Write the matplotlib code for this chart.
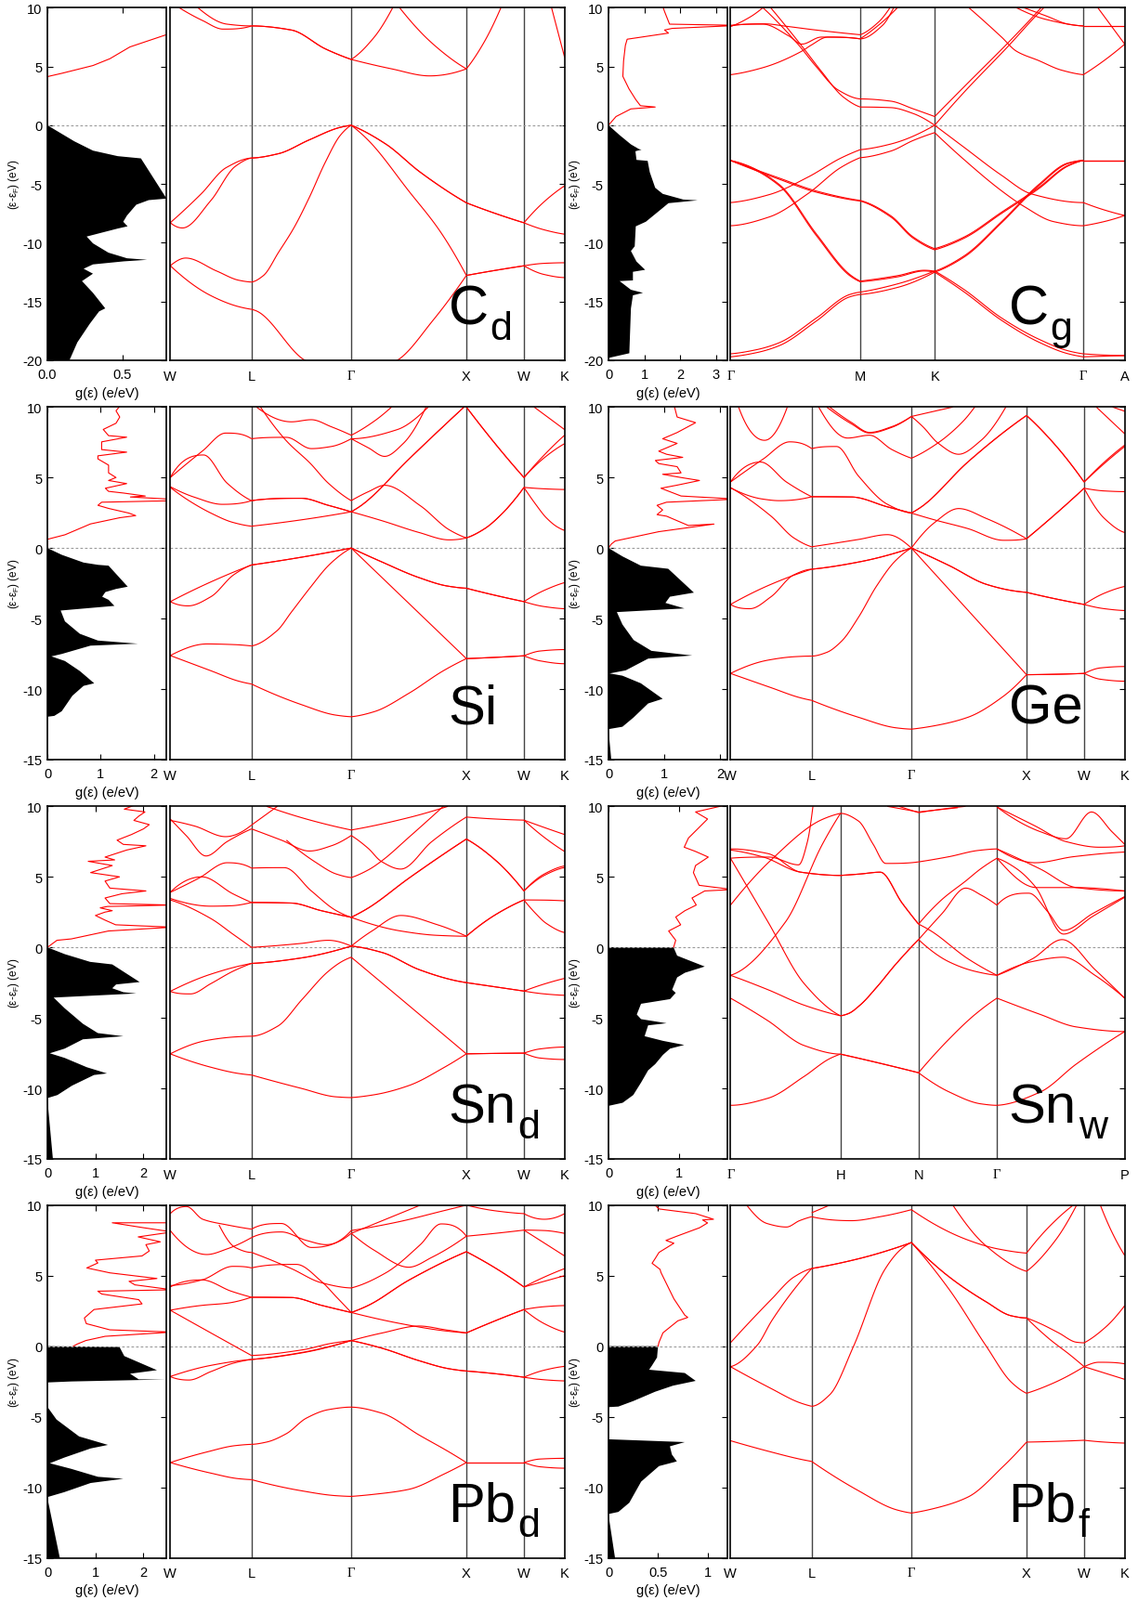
import numpy as np
import matplotlib.pyplot as plt

plt.rcParams["font.family"] = ["Liberation Sans", "DejaVu Sans"]
plt.rcParams["axes.unicode_minus"] = False
plt.rcParams["mathtext.fontset"] = "custom"
plt.rcParams["mathtext.rm"] = "Liberation Sans"
plt.rcParams["mathtext.it"] = "Liberation Sans:italic"

# high-symmetry paths: labels and their place along the band panel (0..1)
FCC_LABELS = ["W", "L", "Γ", "X", "W", "K"]
FCC_POS = [0.0, 0.206, 0.459, 0.751, 0.897, 1.0]
HEX_LABELS = ["Γ", "M", "K", "Γ", "A"]
HEX_POS = [0.0, 0.329, 0.518, 0.895, 1.0]
BCT_LABELS = ["Γ", "H", "N", "Γ", "P"]
BCT_POS = [0.0, 0.279, 0.477, 0.676, 1.0]

# bands: (k, E) knots, k counted in high-symmetry points (0 = first label)
CD_BANDS = [
    [(0, -11.95), (0.5, -14.5), (0.85, -15.45), (1, -15.66), (1.05, -15.8), (1.535, -20), (2, -21.6),
     (2.4, -20), (2.71, -16.6), (3, -12.78), (3.5, -12.35), (4, -11.96), (4.5, -12.7), (5, -12.96)],
    [(0, -11.95), (0.19, -11.3), (0.57, -12.4), (0.85, -13.2), (1, -13.34), (1.118, -12.8), (1.272, -10.8),
     (1.427, -8.7), (1.582, -6.1), (1.737, -3.2), (1.892, -0.84), (2, 0), (2.15, -1.3), (2.5, -5.6),
     (2.77, -9.0), (3, -12.78), (3.5, -12.35), (4, -11.96), (4.5, -11.75), (5, -11.7)],
    [(0, -8.29), (0.15, -8.74), (0.5, -6.4), (0.8, -3.5), (1, -2.79), (1.27, -2.42), (1.58, -1.24),
     (1.89, -0.18), (2, 0), (2.3, -1.6), (2.6, -4.0), (3, -6.6), (3.5, -7.5), (4, -8.3), (4.5, -8.9), (5, -9.27)],
    [(0, -8.29), (0.38, -5.84), (0.69, -3.6), (1, -2.79), (1.27, -2.42), (1.58, -1.24), (1.89, -0.18),
     (2, 0), (2.3, -1.6), (2.6, -4.0), (3, -6.6), (3.5, -7.5), (4, -8.3), (4.5, -6.5), (5, -5.16)],
    [(0.11, 10), (0.4, 8.9), (0.65, 8.18), (1, 8.45), (1.4, 8.1), (1.74, 6.5), (2, 5.6), (2.2, 7.5), (2.36, 10)],
    [(0.34, 10), (0.7, 8.6), (1, 8.45), (1.4, 8.1), (1.74, 6.5), (2, 5.6), (2.35, 4.8), (2.68, 4.2), (3, 4.8)],
    [(2.42, 10), (2.7, 7.0), (3, 4.8), (3.3, 7.0), (3.6, 10)],
    [(4.68, 10), (5, 5.8)],
]

CG_BANDS = [
    [(0, -19.45), (0.2, -19.1), (0.377, -18.5), (0.663, -16.4), (0.92, -14.4), (1, -14.2), (1.5, -13.5),
     (2, -12.4), (2.2, -14.0), (2.45, -16.4), (2.7, -18.2), (2.9, -19.2), (3, -19.45), (3.5, -19.55), (4, -19.6)],
    [(0, -19.7), (0.2, -19.35), (0.377, -18.75), (0.663, -16.65), (0.92, -14.6), (1, -14.4), (1.5, -13.8),
     (2, -12.5), (2.2, -14.2), (2.45, -16.6), (2.7, -18.45), (2.9, -19.45), (3, -19.7), (3.5, -19.65), (4, -19.6)],
    [(0, -3.0), (0.1, -3.3), (0.377, -5.05), (0.663, -9.26), (0.92, -12.7), (1, -13.26), (1.5, -12.8),
     (1.86, -12.34), (2, -12.42), (2.2, -11.1), (2.45, -8.2), (2.7, -5.05), (2.9, -3.2), (3, -3.0), (4, -3.0)],
    [(0, -3.0), (0.1, -3.35), (0.377, -5.15), (0.663, -9.4), (0.92, -12.8), (1, -13.32), (1.5, -12.9),
     (1.86, -12.4), (2, -12.5), (2.2, -11.2), (2.45, -8.3), (2.7, -5.15), (2.9, -3.25), (3, -3.0), (4, -3.0)],
    [(0, -3.0), (0.377, -4.5), (0.663, -5.6), (1, -6.4), (1.41, -7.7), (1.71, -9.5), (2, -10.5),
     (2.2, -9.5), (2.45, -7.4), (2.7, -5.3), (2.9, -3.4), (3, -3.0), (4, -3.0)],
    [(0, -3.0), (0.377, -4.6), (0.663, -5.7), (1, -6.45), (1.41, -7.8), (1.71, -9.6), (2, -10.6),
     (2.2, -9.6), (2.45, -7.5), (2.7, -5.4), (2.9, -3.45), (3, -3.0), (4, -3.0)],
    [(0, -6.58), (0.3, -5.9), (0.6, -4.4), (0.85, -2.8), (1, -2.08), (1.41, -1.6), (2, 0), (2.2, -1.9),
     (2.45, -4.26), (2.65, -5.84), (3, -6.58), (3.5, -7.2), (4, -7.68)],
    [(0, -8.55), (0.3, -7.8), (0.6, -5.8), (0.85, -3.6), (1, -2.76), (1.41, -2.2), (1.71, -1.3), (2, -0.63),
     (2.2, -2.95), (2.45, -5.58), (2.6, -6.9), (2.8, -8.2), (3, -8.55), (3.5, -8.2), (4, -7.68)],
    [(0.25, 10), (0.52, 6.9), (0.66, 5.0), (0.83, 3.0), (1, 2.24), (1.41, 2.05), (1.71, 1.4), (2, 0.74),
     (2.2, 3.3), (2.5, 7.1), (2.68, 9.5), (2.75, 10.5)],
    [(0.31, 10), (0.56, 6.6), (0.7, 4.6), (0.87, 2.4), (1, 1.55), (1.41, 1.5), (1.71, 1.0), (2, 0.0),
     (2.2, 2.84), (2.5, 6.8), (2.67, 9.16), (2.75, 10.2)],
    [(0, 4.3), (0.25, 4.9), (0.55, 6.3), (0.62, 6.8), (0.75, 7.5), (1, 7.35), (1.3, 8.5), (1.45, 10)],
    [(2.23, 10), (2.45, 7.5), (2.55, 6.3), (2.7, 5.5), (2.85, 4.7), (3, 4.3), (3.5, 5.5), (4, 6.9)],
    [(2.6, 10), (2.75, 9.3), (2.9, 8.6), (3, 8.45), (4, 8.45)],
    [(2.55, 10), (2.75, 9.0), (3, 8.45), (4, 8.45)],
    [(3.35, 10), (4, 6.9)],
    [(0, 8.45), (0.26, 8.63), (0.43, 8.42), (0.66, 8.1), (1, 7.7), (1.25, 8.8), (1.4, 10)],
    [(0, 8.5), (0.25, 8.6), (0.45, 7.6), (0.55, 6.9), (0.7, 7.5), (1, 7.35), (1.3, 8.8), (1.5, 10)],
    [(0, 8.4), (0.15, 9.2), (0.25, 10)],
]

SI_BANDS = [
    [(0, -7.62), (0.5, -8.7), (0.85, -9.45), (1, -9.64), (1.5, -11.1), (1.85, -11.85), (2, -11.96),
     (2.2, -11.6), (2.5, -10.3), (2.8, -8.7), (3, -7.84), (3.5, -7.75), (4, -7.64), (4.4, -8.0), (5, -8.2)],
    [(0, -7.62), (0.45, -6.8), (0.8, -6.85), (1, -6.94), (1.256, -5.86), (1.4, -4.54), (1.59, -2.79),
     (1.77, -1.25), (1.916, -0.37), (2, 0), (2.5, -3.92), (3, -7.84), (3.5, -7.75), (4, -7.64), (4.4, -7.3), (5, -7.2)],
    [(0, -3.8), (0.22, -4.1), (0.5, -3.45), (0.78, -1.9), (1, -1.2), (1.5, -0.65), (2, 0), (2.27, -1.0),
     (2.59, -2.1), (2.84, -2.7), (3, -2.85), (3.5, -3.35), (4, -3.8), (4.5, -4.15), (5, -4.3)],
    [(0, -3.8), (0.5, -2.4), (1, -1.2), (1.5, -0.65), (2, 0), (2.27, -1.0), (2.59, -2.1), (2.84, -2.7),
     (3, -2.85), (3.5, -3.35), (4, -3.8), (4.5, -3.0), (5, -2.45)],
    [(0, 4.3), (0.23, 3.36), (0.5, 2.48), (0.77, 1.82), (1, 1.55), (1.5, 2.0), (2, 2.57), (2.27, 1.93),
     (2.59, 1.1), (2.85, 0.58), (3, 0.72), (3.32, 1.38), (3.63, 2.48), (3.89, 3.7), (4, 4.3), (4.29, 3.1),
     (4.55, 2.15), (4.82, 1.5), (5, 1.25)],
    [(1.09, 10), (1.35, 7.6), (1.59, 6.0), (1.77, 4.6), (2, 3.36), (2.15, 4.0), (2.29, 4.45), (2.6, 3.0),
     (2.85, 1.3), (3, 0.72), (3.32, 1.38), (3.63, 2.48), (3.89, 3.7), (4, 4.3), (4.5, 4.2), (5, 4.15)],
    [(0, 4.35), (0.3, 3.6), (0.64, 3.1), (1, 3.36), (1.5, 3.53), (1.77, 3.03), (2, 2.57), (2.1, 3.1),
     (2.5, 6.3), (2.98, 10)],
    [(3, 10), (3.5, 7.4), (4, 5.0), (4.5, 6.4), (5, 7.4)],
    [(0, 5.0), (0.41, 6.6), (0.7, 4.6), (1, 3.36), (1.5, 3.53), (1.77, 3.03), (2, 2.57), (2.1, 3.1),
     (2.5, 6.3), (2.98, 10)],
    [(3, 10), (3.5, 7.4), (4, 5.0), (4.5, 6.6), (5, 8.0)],
    [(0, 5.0), (0.4, 6.9), (0.68, 8.15), (1, 7.75), (1.35, 7.85), (1.6, 7.05), (1.8, 7.2), (2, 7.75),
     (2.15, 7.1), (2.29, 6.5), (2.45, 7.4), (2.65, 10)],
    [(2, 7.75), (2.4, 8.4), (2.67, 10)],
    [(1.05, 10), (1.4, 8.95), (1.6, 9.1), (1.8, 8.6), (2, 8.0), (2.2, 9.0), (2.35, 10)],
    [(4.25, 10), (5, 8.4)],
]

GE_BANDS = [
    [(0, -8.89), (0.5, -9.9), (0.85, -10.6), (1, -10.8), (1.47, -12.0), (1.85, -12.75), (2, -12.84),
     (2.2, -12.6), (2.49, -12.0), (2.8, -10.5), (3, -8.98), (3.5, -8.95), (4, -8.89), (4.4, -9.3), (5, -9.44)],
    [(0, -8.89), (0.46, -7.95), (0.8, -7.7), (1, -7.66), (1.15, -7.4), (1.3, -6.6), (1.47, -4.9),
     (1.65, -2.7), (1.84, -0.9), (2, 0), (2.5, -4.49), (3, -8.98), (3.5, -8.95), (4, -8.89), (4.4, -8.5), (5, -8.4)],
    [(0, -4.0), (0.24, -4.3), (0.5, -3.45), (0.78, -1.9), (1, -1.5), (1.5, -0.95), (2, 0), (2.33, -1.25),
     (2.65, -2.57), (2.9, -3.05), (3, -3.14), (3.5, -3.6), (4, -4.0), (4.5, -4.3), (5, -4.43)],
    [(0, -4.0), (0.5, -2.57), (1, -1.5), (1.5, -0.95), (2, 0), (2.33, -1.25), (2.65, -2.57), (2.9, -3.05),
     (3, -3.14), (3.5, -3.6), (4, -4.0), (4.5, -3.2), (5, -2.72)],
    [(0, 4.28), (0.5, 2.26), (0.78, 0.72), (1, 0.09), (1.47, 0.61), (1.76, 0.95), (2, 0), (2.2, 1.8),
     (2.41, 2.8), (2.65, 2.1), (3, 0.66), (3.5, 2.4), (4, 4.24), (4.5, 2.1), (5, 1.1)],
    [(2, 2.48), (2.2, 2.0), (2.49, 1.38), (2.8, 0.55), (3, 0.66), (3.5, 2.4), (4, 4.24), (4.5, 4.05), (5, 4.0)],
    [(0, 4.28), (0.4, 3.47), (0.6, 3.36), (1, 3.64), (1.4, 3.62), (1.76, 2.92), (2, 2.48), (2.1, 3.0),
     (2.49, 6.1), (3, 9.4), (3.5, 7.3), (4, 4.68), (4.5, 6.0), (5, 7.2)],
    [(0, 4.68), (0.37, 6.1), (0.69, 4.68), (1, 3.64), (1.4, 3.62), (1.76, 2.92), (2, 2.48), (2.1, 3.0),
     (2.49, 6.1), (3, 9.4), (3.5, 7.3), (4, 4.68), (4.5, 6.1), (5, 7.3)],
    [(0, 4.68), (0.4, 6.3), (0.73, 7.53), (1, 7.05), (1.25, 7.2), (1.47, 5.1), (1.76, 3.1), (2, 2.48)],
    [(1.18, 10), (1.4, 8.9), (1.58, 8.2), (1.8, 8.6), (2, 9.33), (2.36, 10)],
    [(1.15, 10), (1.4, 8.8), (1.58, 8.15), (1.8, 8.55), (2, 9.33)],
    [(1.07, 10), (1.36, 7.8), (1.58, 8.0), (1.8, 7.0), (2, 6.37)],
    [(2, 6.37), (2.23, 7.45), (2.45, 9.0), (2.55, 10)],
    [(2, 9.33), (2.1, 8.6), (2.23, 7.45), (2.41, 6.65), (2.6, 7.6), (2.82, 10)],
    [(0.1, 10), (0.42, 7.64), (0.7, 10)],
    [(4.3, 10), (5, 8.1)],
    [(4.7, 10), (5, 9.7)],
]

SND_BANDS = [
    [(0, -7.55), (0.5, -8.5), (0.85, -8.95), (1, -9.05), (1.5, -10.0), (1.85, -10.6), (2, -10.65),
     (2.2, -10.45), (2.5, -9.8), (2.81, -8.5), (3, -7.55), (3.5, -7.52), (4, -7.5), (4.4, -7.85), (5, -7.95)],
    [(0, -7.55), (0.45, -6.6), (0.8, -6.35), (1, -6.3), (1.26, -5.6), (1.51, -3.67), (1.77, -1.7),
     (1.92, -0.95), (2, -0.7), (2.5, -4.12), (3, -7.55), (3.5, -7.52), (4, -7.5), (4.4, -7.2), (5, -7.07)],
    [(0, -3.12), (0.25, -3.3), (0.5, -2.57), (0.77, -1.7), (1, -1.14), (1.5, -0.75), (2, 0.09), (2.27, -0.37),
     (2.59, -1.58), (2.9, -2.35), (3, -2.5), (3.5, -2.8), (4, -3.1), (4.5, -3.3), (5, -3.4)],
    [(0, -3.12), (0.5, -1.9), (1, -1.14), (1.5, -0.75), (2, 0.09), (2.27, -0.37), (2.59, -1.58),
     (2.9, -2.35), (3, -2.5), (3.5, -2.8), (4, -3.1), (4.5, -2.6), (5, -2.2)],
    [(0, 3.36), (0.5, 2.04), (0.77, 0.94), (1, 0.0), (1.5, 0.28), (1.77, 0.5), (2, 0.09), (2.18, 1.16),
     (2.43, 2.26), (2.75, 1.6), (3, 0.79), (3.5, 2.3), (4, 3.36), (4.29, 2.4), (4.55, 1.7), (5, 1.05)],
    [(2, 2.13), (2.43, 1.16), (2.75, 0.85), (3, 0.79), (3.5, 2.3), (4, 3.36), (4.5, 3.35), (5, 3.3)],
    [(0, 3.47), (0.5, 2.92), (0.75, 2.95), (1, 3.18), (1.4, 3.14), (1.7, 2.6), (2, 2.13), (2.15, 2.8),
     (2.5, 4.9), (3, 7.68), (3.5, 6.2), (4, 4.0), (4.5, 5.2), (5, 5.77)],
    [(0, 3.9), (0.39, 5.0), (0.77, 3.8), (1, 3.18), (1.4, 3.14), (1.7, 2.6), (2, 2.13), (2.15, 2.8),
     (2.5, 4.9), (3, 7.68), (3.5, 6.2), (4, 4.0), (4.5, 5.1), (5, 5.66)],
    [(0, 3.9), (0.35, 4.9), (0.7, 6.0), (1, 5.62), (1.33, 5.65), (1.6, 4.0), (1.85, 2.6), (2, 2.13)],
    [(1.35, 7.6), (1.65, 6.0), (1.85, 5.2), (2, 4.95), (2.15, 5.5), (2.26, 6.1), (2.5, 7.8), (2.8, 10)],
    [(1, 8.4), (1.3, 7.6), (1.58, 6.83), (1.8, 7.2), (2, 7.93), (2.15, 7.0), (2.26, 6.1), (2.43, 5.55),
     (2.7, 7.5), (3, 9.24), (3.5, 9.1), (4, 9.02), (4.5, 8.5), (5, 8.0)],
    [(0, 9.1), (0.2, 7.9), (0.44, 6.48), (0.7, 7.5), (1, 8.4)],
    [(0, 9.0), (0.3, 8.6), (0.68, 7.85), (1, 8.67), (1.26, 10)],
    [(1.15, 10), (1.6, 9.0), (2, 8.32), (2.5, 9.2), (2.84, 10)],
    [(4, 9.02), (4.5, 7.8), (5, 6.8)],
]

SNW_BANDS = [
    [(0, -11.2), (0.34, -10.7), (0.67, -9.15), (0.9, -7.9), (1, -7.57), (1.47, -8.17), (2, -8.89),
     (2.39, -10.25), (2.8, -11.1), (3, -11.2), (3.34, -10.25), (3.62, -8.28), (4, -5.97)],
    [(0, -3.6), (0.34, -5.2), (0.67, -6.96), (1, -7.57), (1.47, -8.17), (2, -8.89), (2.39, -6.5),
     (2.72, -4.76), (3, -3.6), (3.34, -4.76), (3.62, -5.64), (4, -5.97)],
    [(0, -1.98), (0.34, -3.0), (0.67, -4.1), (1, -4.85), (1.1, -4.7), (1.25, -4.1), (1.47, -2.79),
     (1.7, -1.25), (2, 0.55), (2.39, -1.03), (2.72, -1.7), (3, -1.98), (3.28, -0.8), (3.51, 0.55),
     (3.77, -1.6), (4, -3.6)],
    [(0, -1.98), (0.5, 1.8), (0.835, 7.3), (1, 9.5), (1.23, 8.96), (1.42, 7.3), (1.58, 5.95), (2, 6.06),
     (2.39, 6.43), (2.76, 6.87), (3, 6.98), (3.34, 5.55), (3.62, 4.24), (4, 4.0)],
    [(0, 6.32), (0.34, 1.82), (0.67, -2.57), (1, -4.85), (1.1, -4.7), (1.25, -4.1), (1.47, -2.79),
     (1.7, -1.25), (2, 0.55), (2.3, 2.4), (2.6, 4.2), (2.8, 3.7), (3, 2.99), (3.25, 3.84), (3.4, 2.5),
     (3.52, 1.2), (3.75, 2.4), (4, 3.6)],
    [(0, 6.98), (0.34, 6.65), (0.64, 5.33), (1, 5.1), (1.25, 5.2), (1.51, 5.33), (1.79, 3.14), (2, 1.65),
     (2.16, 1.16), (2.63, -0.81), (3, -1.98), (3.28, -1.0), (3.52, -0.7), (3.77, -2.0), (4, -3.6)],
    [(0, 6.9), (0.3, 6.4), (0.64, 5.33), (1, 5.1), (1.25, 5.2), (1.51, 5.33), (1.79, 3.14), (2, 1.65),
     (2.3, 3.4), (2.6, 4.7), (2.8, 5.6), (3, 6.32), (3.15, 5.6), (3.3, 4.3), (3.52, 0.94), (3.75, 2.2), (4, 3.55)],
    [(0, 2.99), (0.37, 6.2), (0.835, 9.07), (1, 9.5)],
    [(3, 6.32), (3.31, 4.24), (3.62, 4.24), (4, 4.0)],
    [(0, 6.32), (0.35, 6.4), (0.62, 5.85), (0.7, 7.5), (0.75, 10)],
    [(3, 9.95), (3.34, 8.2), (3.54, 7.7), (3.74, 9.6), (3.9, 8.2), (4, 7.3)],
    [(3, 6.98), (3.3, 6.0), (3.6, 6.43), (4, 6.76)],
    [(3, 9.95), (3.3, 8.6), (3.54, 7.5), (3.8, 7.1), (4, 7.2)],
    [(1.6, 10), (2, 9.6), (2.5, 9.9)],
    [(1.75, 10), (2, 9.55), (2.3, 9.8), (2.6, 10)],
]

PBD_BANDS = [
    [(0, -8.25), (0.5, -9.0), (0.85, -9.4), (1, -9.46), (1.5, -10.25), (1.85, -10.6), (2, -10.65),
     (2.2, -10.5), (2.5, -10.15), (2.81, -9.05), (3, -8.25), (4, -8.25), (4.4, -8.55), (5, -8.65)],
    [(0, -8.25), (0.45, -7.5), (0.8, -7.05), (1, -6.96), (1.15, -6.8), (1.35, -6.2), (1.55, -5.1),
     (1.77, -4.5), (2, -4.32), (2.27, -4.76), (2.59, -6.3), (2.85, -7.5), (3, -8.25), (4, -8.25), (4.4, -8.0),
     (5, -7.95)],
    [(0, -2.15), (0.23, -2.4), (0.5, -1.8), (0.78, -1.2), (1, -0.94), (1.5, -0.48), (2, 0.4), (2.27, -0.15),
     (2.59, -1.03), (2.85, -1.6), (3, -1.76), (3.5, -1.95), (4, -2.2), (4.5, -2.38), (5, -2.46)],
    [(0, -2.15), (0.5, -1.36), (1, -0.94), (1.5, -0.45), (2, 0.4), (2.27, -0.15), (2.59, -1.03),
     (2.85, -1.6), (3, -1.76), (3.5, -1.95), (4, -2.2), (4.5, -1.7), (5, -1.43)],
    [(0, 2.55), (0.5, 0.94), (1, -0.66), (1.51, -0.26), (1.8, 0.2), (2, 0.4), (2.27, 0.94), (2.59, 1.43),
     (2.82, 1.16), (3, 0.94), (3.5, 1.8), (4, 2.6), (4.5, 1.6), (5, 1.0)],
    [(2, 2.39), (2.43, 1.6), (2.8, 1.1), (3, 0.94), (3.5, 1.8), (4, 2.6), (4.5, 2.8), (5, 2.88)],
    [(0, 2.55), (0.4, 2.9), (0.7, 3.05), (1, 3.47), (1.4, 3.45), (1.7, 2.9), (2, 2.39), (2.15, 2.9),
     (2.5, 4.68), (3, 6.7), (3.5, 5.55), (4, 4.2), (4.5, 4.6), (5, 5.0)],
    [(0, 4.2), (0.39, 4.7), (0.75, 3.9), (1, 3.47), (1.4, 3.45), (1.7, 2.9), (2, 2.39), (2.15, 2.9),
     (2.5, 4.68), (3, 6.7), (3.5, 5.55), (4, 4.2), (4.5, 4.9), (5, 5.5)],
    [(0, 4.3), (0.39, 4.7), (0.77, 5.66), (1, 5.55), (1.45, 5.8), (1.7, 4.6), (1.85, 3.5), (2, 2.39)],
    [(0, 8.2), (0.45, 6.5), (0.7, 6.9), (1, 7.7), (1.3, 8.1), (1.55, 7.5), (1.75, 7.2), (2, 8.0),
     (2.2, 6.8), (2.5, 5.6), (2.7, 6.3), (3, 7.8), (3.5, 8.0), (4, 8.23), (4.5, 8.2), (5, 8.0)],
    [(0, 9.4), (0.2, 9.9), (0.4, 9.0), (0.7, 8.6), (1, 8.3), (1.3, 8.7), (1.6, 7.0), (2, 8.2)],
    [(0.6, 8.6), (0.8, 7.0), (1, 6.65), (1.4, 5.5), (1.7, 4.5), (2, 4.13), (2.3, 5.2), (2.6, 7.2),
     (2.78, 8.67), (3, 7.8)],
    [(2, 8.2), (2.4, 8.8), (2.8, 9.6), (3, 10.0)],
    [(2, 8.0), (2.3, 9.0), (2.6, 10)],
    [(3, 10.0), (3.5, 9.6), (4, 9.4), (4.5, 9.0), (5, 9.4)],
    [(4, 8.23), (4.4, 7.5), (5, 6.4)],
]

PBF_BANDS = [
    [(0, -6.7), (0.5, -7.5), (0.85, -8.0), (1, -8.17), (1.47, -10.25), (1.85, -11.6), (2, -11.83),
     (2.2, -11.5), (2.49, -10.7), (2.8, -8.5), (3, -6.8), (3.5, -6.75), (4, -6.67), (4.5, -6.8), (5, -6.87)],
    [(0, -1.45), (0.5, -3.0), (0.85, -4.0), (1, -4.26), (1.18, -3.45), (1.42, 0), (1.73, 5.4), (1.9, 6.9),
     (2, 7.35), (2.33, 4.0), (2.65, 0), (2.87, -2.57), (3, -3.34), (3.49, -2.57), (4, -1.45), (4.36, -1.14),
     (5, -1.25)],
    [(0, 0.24), (0.51, 3.36), (0.78, 4.9), (1, 5.51), (1.47, 6.2), (2, 7.35), (2.33, 4.9), (2.65, 3.14),
     (2.87, 2.15), (3, 2.0), (3.24, 1.6), (3.56, 0.94), (3.87, 0.28), (4, 0.24), (4.54, 1.38), (5, 2.88)],
    [(0, -1.45), (0.33, 0.07), (0.51, 1.82), (0.78, 4.0), (1, 5.51), (1.47, 6.2), (2, 7.35), (2.33, 4.9),
     (2.65, 3.14), (2.87, 2.15), (3, 2.0), (3.4, 0.5), (3.75, -0.6), (4, -1.45), (4.5, -1.9), (5, -2.35)],
    [(0.2, 10), (0.45, 8.7), (0.69, 8.45), (0.85, 8.9), (1, 9.18), (1.4, 8.9), (1.7, 9.2), (2, 9.68),
     (2.49, 7.53), (2.75, 6.9), (3, 6.6), (3.4, 8.5), (3.81, 10)],
    [(1, 9.46), (1.18, 10)],
    [(2.36, 10), (2.65, 7.1), (3, 5.31), (3.5, 7.5), (3.87, 10)],
    [(4.4, 10), (4.7, 8.0), (5, 6.43)],
]

# density of states: occupied (filled black) outlines and empty part (red), as (E, g) pairs
CD_DOS_OCC = [(0, 0), (-0.58, 0.076), (-1.37, 0.18), (-2.16, 0.304), (-2.63, 0.469), (-2.82, 0.624),
              (-6.24, 0.795), (-6.37, 0.676), (-6.76, 0.593), (-7.68, 0.531), (-8.21, 0.506), (-8.6, 0.535),
              (-8.79, 0.469), (-9.47, 0.262), (-10.05, 0.304), (-10.84, 0.407), (-11.32, 0.531),
              (-11.45, 0.665), (-11.58, 0.51), (-11.84, 0.304), (-12.21, 0.242), (-12.63, 0.304),
              (-13.26, 0.231), (-14.26, 0.304), (-15.58, 0.386), (-15.84, 0.345), (-16.89, 0.283),
              (-18.47, 0.2), (-20.5, 0.13), (-20.5, 0)]
CD_DOS_EMP = [(0, 0), (4.1, 0), (4.16, 0.008), (4.42, 0.097), (5.08, 0.304), (5.66, 0.417), (6.66, 0.55),
              (7.71, 0.795), (8.0, 0.9)]

CG_DOS_OCC = [(0, 0), (-0.84, 0.31), (-1.63, 0.625), (-2.03, 0.85), (-2.08, 0.92), (-2.21, 0.75),
              (-2.95, 0.78), (-3.03, 1.09), (-4.0, 1.15), (-5.32, 1.3), (-5.84, 1.51), (-6.32, 2.08),
              (-6.39, 2.48), (-6.63, 1.67), (-7.16, 1.46), (-8.21, 1.04), (-8.6, 0.76), (-10.3, 0.73),
              (-10.7, 0.625), (-11.6, 0.78), (-12.3, 1.02), (-12.47, 0.68), (-13.2, 0.68), (-13.26, 0.31),
              (-14.0, 0.625), (-14.26, 0.96), (-14.47, 0.68), (-15.58, 0.625), (-19.4, 0.58), (-19.8, 0)]
CG_DOS_EMP = [(0, 0), (0.74, 0.21), (1.39, 0.625), (1.55, 1.3), (1.66, 0.89), (2.18, 0.76), (3.1, 0.57),
              (4.16, 0.4), (5.47, 0.42), (6.79, 0.47), (7.32, 0.52), (7.84, 1.67), (8.1, 1.56), (8.24, 1.77),
              (8.45, 3.3), (8.5, 3.6), (8.6, 1.7), (9.68, 1.56), (10.2, 1.5)]

SI_DOS_OCC = [(0, 0), (-0.48, 0.27), (-1.03, 0.68), (-1.19, 0.95), (-1.25, 1.15), (-2.74, 1.51),
              (-2.9, 1.29), (-3.12, 1.09), (-3.45, 1.03), (-3.67, 1.15), (-4.1, 1.26), (-4.43, 0.25),
              (-5.2, 0.33), (-6.08, 0.61), (-6.56, 0.95), (-6.78, 1.7), (-6.92, 0.81), (-7.51, 0.27),
              (-7.68, 0.075), (-8.01, 0.33), (-8.72, 0.61), (-9.59, 0.88), (-9.77, 0.68), (-10.47, 0.47),
              (-11.57, 0.27), (-11.9, 0.13), (-11.96, 0)]
SI_DOS_EMP = [(0, 0), (0.62, 0), (0.94, 0.33), (1.71, 0.81), (2.15, 1.36), (2.3, 1.66), (2.48, 1.53),
              (2.81, 1.15), (3.03, 0.95), (3.25, 1.02), (3.36, 2.4), (3.45, 2.4), (3.62, 1.56), (3.69, 1.84),
              (3.9, 1.43), (4.02, 1.15), (4.24, 1.09), (4.57, 1.49), (4.79, 1.15), (5.0, 1.29), (5.33, 1.15),
              (5.88, 1.15), (6.32, 0.95), (6.54, 0.95), (6.8, 1.49), (6.98, 1.02), (7.53, 1.02), (7.86, 1.49),
              (7.97, 1.15), (8.41, 1.05), (8.85, 1.29), (9.29, 1.36), (9.73, 1.29), (10.2, 1.39)]

GE_DOS_OCC = [(0, 0), (-0.59, 0.25), (-1.25, 0.58), (-1.47, 1.07), (-3.16, 1.53), (-3.45, 1.1),
              (-3.89, 1.02), (-4.28, 1.36), (-4.54, 0.15), (-5.42, 0.25), (-6.52, 0.45), (-7.29, 0.77),
              (-7.62, 1.5), (-7.84, 0.71), (-8.67, 0.31), (-8.89, 0.02), (-9.05, 0.25), (-9.59, 0.58),
              (-10.69, 0.97), (-11.02, 0.71), (-12.01, 0.45), (-12.67, 0.25), (-12.84, 0)]
GE_DOS_CORE = [(-12.9, 0), (-15.2, 0.055), (-15.2, 0)]
GE_DOS_EMP = [(0, 0), (0.28, 0.05), (0.5, 0.12), (1.16, 0.9), (1.7, 1.89), (1.6, 1.43), (2.26, 1.04),
              (2.37, 0.87), (2.7, 0.97), (3.03, 0.87), (3.25, 1.04), (3.47, 2.3), (3.69, 1.3), (4.24, 0.94),
              (4.46, 1.23), (4.79, 1.63), (5.0, 1.3), (5.23, 0.97), (5.33, 1.3), (5.77, 1.23), (5.99, 0.9),
              (6.21, 0.84), (6.43, 1.33), (6.65, 1.04), (6.87, 0.9), (7.42, 1.23), (7.75, 0.97), (8.19, 1.23),
              (8.89, 1.56), (9.29, 1.23), (10.2, 1.17)]

SND_DOS_OCC = [(0, 0), (-0.48, 0.36), (-1.03, 0.89), (-1.21, 1.35), (-2.46, 1.92), (-2.63, 1.43),
               (-2.9, 1.35), (-3.18, 1.58), (-3.27, 1.85), (-3.56, 0.13), (-4.32, 0.36), (-5.42, 0.74),
               (-6.08, 1.05), (-6.3, 1.58), (-6.52, 0.74), (-7.18, 0.36), (-7.51, 0.05), (-7.84, 0.36),
               (-8.5, 0.82), (-8.94, 1.24), (-9.05, 0.97), (-9.81, 0.51), (-10.47, 0.21), (-10.69, 0)]
SND_DOS_CORE = [(-10.75, 0), (-15.2, 0.12), (-15.2, 0)]
SND_DOS_EMP = [(0, 0), (0.5, 0.2), (0.6, 0.5), (1.16, 1.27), (1.43, 2.6), (1.6, 1.42), (1.93, 1.2),
               (2.26, 1.0), (2.5, 1.2), (2.6, 1.35), (2.8, 1.1), (2.9, 1.25), (3.0, 2.6), (3.1, 1.3),
               (3.5, 1.2), (3.8, 1.55), (4.0, 2.05), (4.2, 1.3), (4.7, 1.2), (5.0, 1.5), (5.3, 0.9),
               (5.8, 1.35), (6.1, 0.85), (6.2, 1.4), (6.4, 1.2), (6.9, 1.65), (7.2, 2.05), (7.3, 1.58),
               (7.6, 1.45), (8.0, 1.75), (8.4, 2.0), (8.7, 2.12), (9.0, 1.8), (9.3, 1.9), (9.6, 2.03),
               (9.8, 1.6), (10.2, 1.9)]

SNW_DOS_OCC = [(0, 0), (0, 0.92), (-0.59, 0.97), (-0.81, 1.08), (-1.36, 1.36), (-1.8, 1.08), (-2.13, 0.97),
               (-3.0, 0.9), (-3.23, 0.95), (-3.67, 0.87), (-4.0, 0.46), (-4.76, 0.4), (-5.09, 0.46),
               (-5.38, 0.82), (-5.53, 0.56), (-6.3, 0.51), (-6.63, 0.77), (-6.92, 1.07), (-7.18, 0.87),
               (-7.62, 0.77), (-8.28, 0.66), (-8.72, 0.56), (-9.59, 0.46), (-10.47, 0.35), (-11.02, 0.2),
               (-11.24, 0)]
SNW_DOS_EMP = [(0, 0.92), (0.5, 0.95), (1.16, 0.85), (1.6, 1.02), (2.15, 0.95), (2.6, 1.08), (3.0, 1.24),
               (3.5, 1.18), (4.0, 1.36), (4.1, 1.75), (4.4, 1.28), (5.3, 1.2), (5.8, 1.23), (6.4, 1.41),
               (6.8, 1.23), (7.1, 1.07), (7.75, 1.13), (8.4, 1.26), (9.1, 1.4), (9.6, 1.23), (10.2, 1.75)]

PBD_DOS_OCC = [(0, 0), (-0.05, 1.5), (-0.7, 1.6), (-1.7, 2.28), (-1.95, 1.72), (-2.35, 1.9), (-2.36, 2.47),
               (-2.5, 0.5), (-2.57, 0)]
PBD_DOS_LOW = [(-4.3, 0), (-5.2, 0.19), (-6.4, 0.66), (-7.0, 1.26), (-7.25, 0.9), (-7.9, 0.35), (-8.3, 0.05),
               (-8.7, 0.5), (-9.26, 1.05), (-9.4, 1.58), (-9.7, 0.9), (-10.35, 0.35), (-10.7, 0)]
PBD_DOS_CORE = [(-10.75, 0), (-15.2, 0.27), (-15.2, 0)]
PBD_DOS_EMP = [(0, 0.54), (0.15, 0.62), (0.4, 0.8), (0.7, 1.2), (1.0, 2.6), (1.16, 1.3), (1.6, 0.81),
               (2.0, 0.77), (2.6, 0.97), (3.0, 1.97), (3.3, 1.9), (3.7, 1.13), (3.9, 1.05), (4.0, 2.6),
               (4.35, 1.82), (4.6, 1.7), (4.8, 2.28), (5.2, 1.3), (5.55, 0.82), (5.9, 1.05), (6.1, 1.0),
               (6.4, 1.97), (6.75, 2.12), (7.2, 2.05), (7.4, 2.35), (7.75, 1.89), (8.1, 2.6), (8.4, 2.0),
               (8.75, 1.35), (8.75, 2.6)]

PBF_DOS_OCC = [(0, 0), (0, 0.5), (-0.8, 0.49), (-1.36, 0.44), (-1.67, 0.41), (-1.9, 0.77), (-2.46, 0.88),
               (-2.8, 0.65), (-3.23, 0.47), (-3.89, 0.25), (-4.28, 0.1), (-4.32, 0)]
PBF_DOS_LOW = [(-6.6, 0), (-6.8, 0.77), (-7.1, 0.62), (-7.68, 0.64), (-8.17, 0.69), (-8.5, 0.51),
               (-9.6, 0.33), (-11.1, 0.21), (-11.75, 0.1), (-11.9, 0)]
PBF_DOS_CORE = [(-11.95, 0), (-15.2, 0.07), (-15.2, 0)]
PBF_DOS_EMP = [(0, 0.5), (0.28, 0.51), (0.95, 0.55), (1.8, 0.7), (2.04, 0.8), (2.2, 0.77), (3.36, 0.66),
               (5.22, 0.53), (5.45, 0.52), (5.88, 0.44), (6.2, 0.47), (6.65, 0.51), (7.3, 0.66), (7.5, 0.58),
               (7.8, 0.69), (8.4, 0.92), (8.74, 1.0), (8.95, 0.95), (9.0, 1.06), (9.4, 0.88), (9.73, 0.51),
               (10.2, 0.44)]

# panel table built from the arrays above
PANELS = [
    dict(row=0, col=0, name="C", sub="d", bands=CD_BANDS, path=(FCC_LABELS, FCC_POS), ymin=-20,
         dos=[CD_DOS_OCC], emp=CD_DOS_EMP, gmax=0.795, gticks=[0, 0.5], glabels=["0.0", "0.5"]),
    dict(row=0, col=1, name="C", sub="g", bands=CG_BANDS, path=(HEX_LABELS, HEX_POS), ymin=-20,
         dos=[CG_DOS_OCC], emp=CG_DOS_EMP, gmax=3.31, gticks=[0, 1, 2, 3], glabels=["0", "1", "2", "3"]),
    dict(row=1, col=0, name="Si", sub=None, bands=SI_BANDS, path=(FCC_LABELS, FCC_POS), ymin=-15,
         dos=[SI_DOS_OCC], emp=SI_DOS_EMP, gmax=2.24, gticks=[0, 1, 2], glabels=["0", "1", "2"]),
    dict(row=1, col=1, name="Ge", sub=None, bands=GE_BANDS, path=(FCC_LABELS, FCC_POS), ymin=-15,
         dos=[GE_DOS_OCC, GE_DOS_CORE], emp=GE_DOS_EMP, gmax=2.13, gticks=[0, 1, 2], glabels=["0", "1", "2"]),
    dict(row=2, col=0, name="Sn", sub="d", bands=SND_BANDS, path=(FCC_LABELS, FCC_POS), ymin=-15,
         dos=[SND_DOS_OCC, SND_DOS_CORE], emp=SND_DOS_EMP, gmax=2.48, gticks=[0, 1, 2], glabels=["0", "1", "2"]),
    dict(row=2, col=1, name="Sn", sub="w", bands=SNW_BANDS, path=(BCT_LABELS, BCT_POS), ymin=-15,
         dos=[SNW_DOS_OCC], emp=SNW_DOS_EMP, gmax=1.68, gticks=[0, 1], glabels=["0", "1"]),
    dict(row=3, col=0, name="Pb", sub="d", bands=PBD_BANDS, path=(FCC_LABELS, FCC_POS), ymin=-15,
         dos=[PBD_DOS_OCC, PBD_DOS_LOW, PBD_DOS_CORE], emp=PBD_DOS_EMP, gmax=2.48, gticks=[0, 1, 2],
         glabels=["0", "1", "2"]),
    dict(row=3, col=1, name="Pb", sub="f", bands=PBF_BANDS, path=(FCC_LABELS, FCC_POS), ymin=-15,
         dos=[PBF_DOS_OCC, PBF_DOS_LOW, PBF_DOS_CORE], emp=PBF_DOS_EMP, gmax=1.2, gticks=[0, 0.5, 1],
         glabels=["0", "0.5", "1"]),
]


def end_slope(h0, h1, d0, d1):
    m = ((2 * h0 + h1) * d0 - h0 * d1) / (h0 + h1)
    if np.sign(m) != np.sign(d0):
        m = 0.0
    elif np.sign(d0) != np.sign(d1) and abs(m) > abs(3 * d0):
        m = 3 * d0
    return m


def pchip(xk, yk, x):
    # monotone cubic through the knots (keeps bands from overshooting)
    n = len(xk)
    h = np.diff(xk)
    d = np.diff(yk) / h
    m = np.zeros(n)
    if n == 2:
        m[:] = d[0]
    else:
        for i in range(1, n - 1):
            if d[i - 1] * d[i] > 0:
                w1 = 2 * h[i] + h[i - 1]
                w2 = h[i] + 2 * h[i - 1]
                m[i] = (w1 + w2) / (w1 / d[i - 1] + w2 / d[i])
        m[0] = end_slope(h[0], h[1], d[0], d[1])
        m[-1] = end_slope(h[-1], h[-2], d[-1], d[-2])
    i = np.clip(np.searchsorted(xk, x, side="right") - 1, 0, n - 2)
    t = (x - xk[i]) / h[i]
    return (yk[i] * (2 * t**3 - 3 * t**2 + 1) + h[i] * m[i] * (t**3 - 2 * t**2 + t)
            + yk[i + 1] * (-2 * t**3 + 3 * t**2) + h[i] * m[i + 1] * (t**3 - t**2))


def draw_band(ax, knots, pos):
    k = np.array([p[0] for p in knots], float)
    e = np.array([p[1] for p in knots], float)
    idx = np.arange(len(pos))
    for s in range(int(np.floor(k[0] + 1e-9)), int(np.ceil(k[-1] - 1e-9))):
        sel = (k >= s - 1e-9) & (k <= s + 1 + 1e-9)
        ks, es = k[sel], e[sel]
        if len(ks) < 2:
            continue
        kk = np.linspace(ks[0], ks[-1], 80)
        ax.plot(np.interp(kk, idx, pos), pchip(ks, es, kk), color="red", lw=0.8, solid_capstyle="butt")


W, H = 1225, 1724
COL_X = [(51, 179.3, 183.3, 607.7), (655, 783, 786.3, 1210.7)]
ROW_TOP = [9.3, 439.3, 869.3, 1298.8]
ROW_H = 379.7

fig = plt.figure(figsize=(W / 100, H / 100), dpi=100)

for p in PANELS:
    dx0, dx1, bx0, bx1 = COL_X[p["col"]]
    top = ROW_TOP[p["row"]]
    yb = 1 - (top + ROW_H) / H
    ymin = p["ymin"]
    yt = list(range(ymin, 11, 5))

    # DOS panel
    ad = fig.add_axes([dx0 / W, yb, (dx1 - dx0) / W, ROW_H / H])
    for poly in p["dos"]:
        ad.fill([q[1] for q in poly], [q[0] for q in poly], color="black", lw=0)
    ad.plot([q[1] for q in p["emp"]], [q[0] for q in p["emp"]], color="red", lw=0.8)
    ad.axhline(0, color="#9a9a9a", lw=0.8, ls=(0, (2.5, 2)))
    ad.set_xlim(0, p["gmax"])
    ad.set_ylim(ymin, 10)
    ad.set_yticks(yt)
    ad.set_yticklabels([str(v) for v in yt])
    ad.set_xticks(p["gticks"])
    ad.set_xticklabels(p["glabels"])
    ad.tick_params(direction="in", top=True, right=True, length=4, width=0.8, labelsize=10.5, pad=4)
    ad.tick_params(axis="x", pad=6)
    for sp in ad.spines.values():
        sp.set_linewidth(1.2)
    fig.text((dx0 + dx1) / 2 / W, 1 - (top + ROW_H + 35) / H, "g(ε) (e/eV)", ha="center", va="center",
             fontsize=10.5)
    fig.text((dx0 - 36) / W, 1 - (top + ROW_H / 2) / H, "(ε-ε$_\\mathrm{F}$) (eV)", ha="center",
             va="center", rotation=90, fontsize=8.5)

    # band panel
    ab = fig.add_axes([bx0 / W, yb, (bx1 - bx0) / W, ROW_H / H])
    labels, pos = p["path"]
    for x in pos[1:-1]:
        ab.axvline(x, color="#444444", lw=1.0)
    ab.axhline(0, color="#9a9a9a", lw=0.8, ls=(0, (2.5, 2)))
    for b in p["bands"]:
        draw_band(ab, b, pos)
    ab.set_xlim(0, 1)
    ab.set_ylim(ymin, 10)
    ab.set_xticks(pos)
    ab.set_xticklabels(labels)
    for t, lab in zip(ab.get_xticklabels(), labels):
        if lab == "Γ":
            t.set_fontfamily("Liberation Serif")
    ab.set_yticks(yt)
    ab.tick_params(axis="x", length=0, labelsize=10.5, pad=7)
    ab.tick_params(axis="y", direction="in", left=False, right=True, labelleft=False, length=4, width=0.8)
    for sp in ab.spines.values():
        sp.set_linewidth(1.2)
    main = ab.text(0.705, 0.105, p["name"], transform=ab.transAxes, fontsize=43, ha="left", va="baseline")
    if p["sub"]:
        # subscript: large, set below the baseline like the original labels
        ab.annotate(p["sub"], xy=(1.0, 0.0), xycoords=main, xytext=(1.5, -3.5), textcoords="offset points",
                    fontsize=31, ha="left", va="baseline")

fig.savefig("out.png", dpi=100)
